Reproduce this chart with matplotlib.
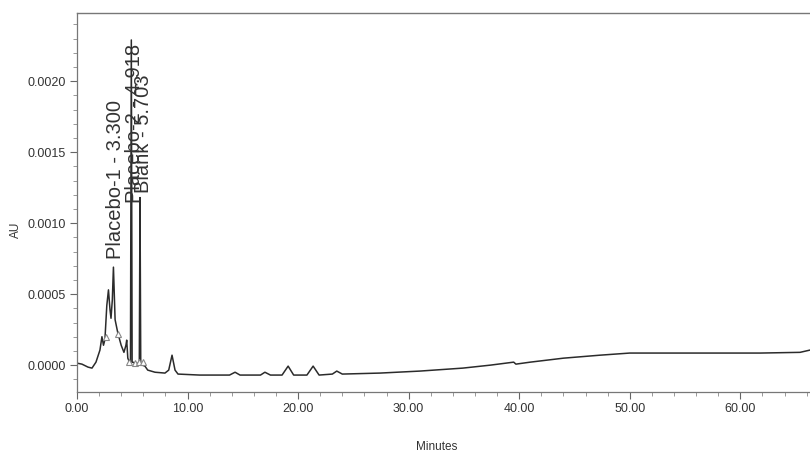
import matplotlib
matplotlib.use("Agg")
import matplotlib.pyplot as plt
from matplotlib.ticker import MultipleLocator, FormatStrFormatter

# Chromatogram trace (minutes, AU)
time_min = [0.00, 0.45, 1.00, 1.36, 1.72, 2.08, 2.26, 2.40, 2.53, 2.70, 2.85, 2.99,
            3.08, 3.20, 3.30, 3.45, 3.70, 4.00, 4.25, 4.43, 4.50, 4.60, 4.75, 4.84,
            4.918, 4.99, 5.10, 5.30, 5.55, 5.64, 5.703, 5.77, 5.90, 6.15, 6.40, 7.06,
            7.96, 8.30, 8.60, 8.87, 9.14, 11.1, 13.8, 14.3, 14.75, 16.6, 17.0, 17.5,
            18.55, 19.1, 19.6, 20.8, 21.36, 21.9, 23.1, 23.5, 24.0, 27.4, 31.0, 34.9,
            37.4, 39.5, 39.7, 41.0, 44.0, 47.3, 50.0, 56.4, 61.8, 65.4, 66.3]
absorbance = [1.4e-5, 0.7e-5, -1.4e-5, -2.1e-5, 2.1e-5, 1.06e-4, 2.0e-4, 1.4e-4, 1.8e-4,
              4.2e-4, 5.3e-4, 3.9e-4, 3.3e-4, 4.6e-4, 6.9e-4, 3.2e-4, 2.25e-4, 1.4e-4,
              9.0e-5, 1.4e-4, 1.76e-4, 4.9e-5, 2.1e-5, 2.0e-5, 2.29e-3, 2.0e-5, 2.0e-5,
              0.7e-5, 1.4e-5, 1.4e-5, 1.18e-3, 1.0e-5, 0.0, -7e-6, -3.5e-5, -5.0e-5,
              -5.6e-5, -3.5e-5, 7.0e-5, -3.5e-5, -6.3e-5, -7.0e-5, -7.0e-5, -5.0e-5,
              -7.0e-5, -7.0e-5, -5.0e-5, -7.0e-5, -7.0e-5, -7e-6, -7.0e-5, -7.0e-5,
              -7e-6, -7.0e-5, -6.3e-5, -4.2e-5, -6.3e-5, -5.6e-5, -4.2e-5, -2.1e-5,
              0.0, 2.1e-5, 7e-6, 2.1e-5, 4.9e-5, 7.0e-5, 8.5e-5, 8.5e-5, 8.5e-5,
              9.0e-5, 1.06e-4]

# Integration markers (minutes, AU)
marker_t = [2.60, 3.75, 4.75, 5.25, 5.60, 5.95]
marker_au = [2.0e-4, 2.2e-4, 2.1e-5, 1.4e-5, 2.1e-5, 2.1e-5]

# Peak labels
peak_names = ["Placebo-1 - 3.300", "Placebo-2 - 4.918", "Blank - 5.703"]
label_t = [3.53, 5.16, 6.02]
label_au = [7.5e-4, 1.14e-3, 1.21e-3]

x_ticks = [0, 10, 20, 30, 40, 50, 60]
y_ticks = [0.0, 0.0005, 0.0010, 0.0015, 0.0020]

fig = plt.figure(figsize=(8.10, 4.57), dpi=100)
ax = fig.add_axes([0.095, 0.142, 0.905, 0.8296])

ink = "#2b2b2b"
fam = ["Liberation Sans", "DejaVu Sans"]
ax.plot(time_min, absorbance, color=ink, lw=1.1)
ax.plot(marker_t, marker_au, linestyle="none", marker="^", ms=4,
        mfc="white", mec="#888888", mew=0.8)

for name, t, a in zip(peak_names, label_t, label_au):
    ax.text(t, a, name, rotation=90, ha="center", va="bottom",
            fontsize=14.5, color="#333333", family=fam)

ax.set_xlim(0, 66.3)
ax.set_ylim(-1.9e-4, 2.48e-3)
ax.set_xticks(x_ticks)
ax.set_yticks(y_ticks)
ax.xaxis.set_major_formatter(FormatStrFormatter("%.2f"))
ax.yaxis.set_major_formatter(FormatStrFormatter("%.4f"))
ax.xaxis.set_minor_locator(MultipleLocator(2))
ax.yaxis.set_minor_locator(MultipleLocator(0.0001))

for lab in ax.get_xticklabels() + ax.get_yticklabels():
    lab.set_family(fam)
    lab.set_fontsize(9)
    lab.set_color("#333333")
ax.tick_params(axis="both", which="major", direction="out", length=5,
               width=0.8, color="#666666", pad=3)
ax.tick_params(axis="both", which="minor", direction="out", length=3,
               width=0.6, color="#888888")

ax.spines["right"].set_visible(False)
ax.spines["top"].set_color("#777777")
ax.spines["top"].set_linewidth(1.0)
ax.spines["left"].set_color("#777777")
ax.spines["bottom"].set_color("#777777")
ax.spines["left"].set_linewidth(0.9)
ax.spines["bottom"].set_linewidth(0.9)

ax.set_xlabel("Minutes", fontsize=8.5, color="#333333", family=fam)
ax.set_ylabel("AU", fontsize=8.5, color="#333333", family=fam)
ax.xaxis.set_label_coords(0.491, -0.128)
ax.yaxis.set_label_coords(-0.075, 0.427)

fig.savefig("out.png", dpi=100, facecolor="white")
